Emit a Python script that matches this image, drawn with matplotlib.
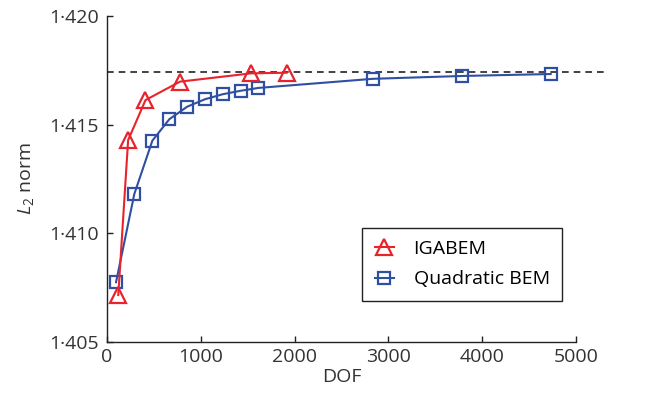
import numpy as np
import matplotlib as mpl
mpl.use('Agg')
import matplotlib.pyplot as plt
from matplotlib.ticker import FuncFormatter

### fonts ###
mpl.rc('font', family='Open Sans', size=14)
mpl.rc('mathtext', fontset='custom', rm='Open Sans', it='Open Sans:italic')

# IGABEM
iga_dof = np.array([120, 225, 410, 778, 1535, 1915])
iga_norm = np.array([1.40716, 1.41429, 1.41613, 1.41698, 1.41736, 1.41739])

# Quadratic BEM
bem_dof = np.array([96, 291, 483, 664, 856, 1045, 1233, 1425, 1613, 2836, 3785, 4730])
bem_norm = np.array([1.40775, 1.41181, 1.41426, 1.41525, 1.41583, 1.41617,
                     1.41640, 1.41656, 1.41669, 1.41711, 1.41724, 1.41733])

exact = 1.41742
exact_end = 5330

red = '#e8232b'
blue = '#2f4fa2'

fig = plt.figure(figsize=(6.51, 3.95), dpi=100)
ax = fig.add_axes([0.1644, 0.1342, 0.7204, 0.8253])

ax.plot([0, exact_end], [exact, exact], color='#222222', lw=1.2, ls=(0, (4, 3)),
        clip_on=False, zorder=1)
ax.plot(iga_dof, iga_norm, '-^', color=red, lw=1.5, ms=12, mew=1.6,
        mfc='none', mec=red, label='IGABEM', clip_on=False, zorder=3)
ax.plot(bem_dof, bem_norm, '-s', color=blue, lw=1.5, ms=8.5, mew=1.6,
        mfc='none', mec=blue, label='Quadratic BEM', clip_on=False, zorder=2)

ax.set_xlim(0, 5000)
ax.set_ylim(1.405, 1.420)
ax.set_xticks([0, 1000, 2000, 3000, 4000, 5000])
ax.set_yticks([1.405, 1.410, 1.415, 1.420])
ax.yaxis.set_major_formatter(FuncFormatter(lambda v, p: f'{v:.3f}'.replace('.', '\u00b7')))

ax.spines['top'].set_visible(False)
ax.spines['right'].set_visible(False)
for s in ['left', 'bottom']:
    ax.spines[s].set_linewidth(1.0)
    ax.spines[s].set_color('#222222')
ax.tick_params(direction='in', length=4, width=1, colors='#222222',
               labelcolor='#333333')
ax.tick_params(axis='y', pad=6)
ax.tick_params(axis='x', pad=4)

ax.set_xlabel('DOF', color='#333333', labelpad=2)
ax.set_ylabel(r'$L_2$ norm', color='#333333', labelpad=9)

leg = ax.legend(loc='lower left', bbox_to_anchor=(0.5437, 0.1258), handlelength=1.0,
                fancybox=False, edgecolor='#222222', framealpha=1,
                borderpad=0.65, labelspacing=0.62, handletextpad=1.0, borderaxespad=0,
                fontsize=14)
leg.get_frame().set_linewidth(1.0)

fig.savefig('out.png', dpi=100)
